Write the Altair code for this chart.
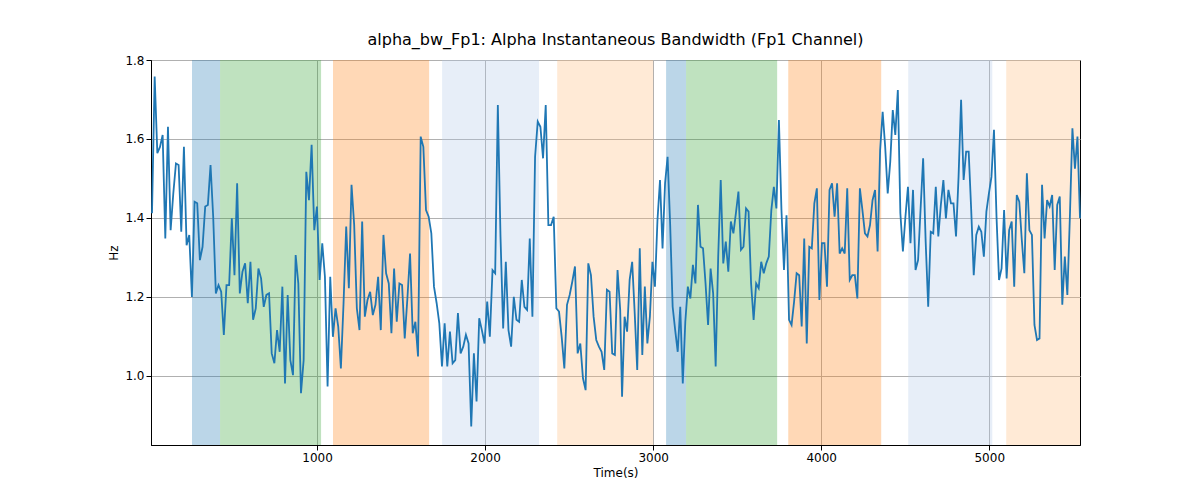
import altair as alt
import numpy as np
import pandas as pd

bw_first = [
    1.412, 1.758, 1.564, 1.580, 1.610, 1.348, 1.631, 1.369, 1.462, 1.538, 1.534, 1.365, 1.580, 1.331,
    1.357, 1.200, 1.441, 1.437, 1.293, 1.327, 1.429, 1.433, 1.534, 1.403, 1.209, 1.230, 1.213, 1.104,
    1.230, 1.230, 1.399, 1.255, 1.488, 1.209, 1.264, 1.285, 1.184, 1.289, 1.142, 1.171, 1.272, 1.247,
    1.175, 1.205, 1.209, 1.057, 1.032, 1.116, 1.061, 1.226, 0.981, 1.205, 1.040, 1.002, 1.306, 1.234,
    0.956, 1.040, 1.517, 1.445, 1.585, 1.369, 1.429, 1.243, 1.336, 1.251, 0.973, 1.251, 1.099, 1.171,
    1.125, 1.019, 1.184, 1.378, 1.222, 1.484, 1.382, 1.171, 1.116, 1.391, 1.150, 1.192, 1.213, 1.154,
    1.180, 1.251, 1.116, 1.357, 1.260, 1.234, 1.108, 1.272, 1.137, 1.234, 1.230, 1.095, 1.196, 1.310,
    1.108, 1.137, 1.049, 1.606, 1.580, 1.420, 1.403, 1.361, 1.226, 1.184, 1.133, 1.024, 1.133, 1.024,
    1.112, 1.032, 1.040, 1.159, 1.057, 1.074, 1.104, 1.082, 0.872, 1.057, 0.935, 1.146, 1.116, 1.082,
    1.188, 1.099, 1.268, 1.260, 1.686, 1.353, 1.120, 1.289, 1.116, 1.074, 1.200, 1.142, 1.137, 1.243,
    1.175, 1.167, 1.348, 1.150, 1.555, 1.644, 1.631, 1.551, 1.686, 1.382, 1.382, 1.403, 1.171, 1.163,
    1.099, 1.019, 1.180, 1.205, 1.239, 1.277, 1.057, 1.082, 0.994, 0.964, 1.285, 1.255, 1.150, 1.091,
    1.074, 1.061, 1.015, 1.218, 1.213, 1.057, 1.053, 1.268, 1.167,
]
bw_second = [
    0.947, 1.150, 1.112, 1.243, 1.289, 1.159, 1.015, 1.323, 1.053, 1.226, 1.082, 1.150, 1.289, 1.226,
    1.395, 1.496, 1.323, 1.488, 1.555, 1.386, 1.175, 1.116, 1.061, 1.175, 0.981, 1.137, 1.226, 1.196,
    1.281, 1.234, 1.433, 1.327, 1.323, 1.234, 1.129, 1.272, 1.209, 1.024, 1.302, 1.496, 1.285, 1.340,
    1.264, 1.391, 1.361, 1.412, 1.467, 1.319, 1.327, 1.424, 1.416, 1.234, 1.142, 1.234, 1.222, 1.289,
    1.260, 1.285, 1.302, 1.420, 1.479, 1.424, 1.648, 1.420, 1.268, 1.407, 1.142, 1.129, 1.188, 1.260,
    1.255, 1.125, 1.348, 1.082, 1.327, 1.323, 1.437, 1.475, 1.192, 1.336, 1.336, 1.226, 1.471, 1.488,
    1.403, 1.488, 1.310, 1.323, 1.310, 1.475, 1.243, 1.255, 1.255, 1.196, 1.475, 1.420, 1.361, 1.353,
    1.382, 1.445, 1.471, 1.315, 1.572, 1.669, 1.580, 1.462, 1.542, 1.673, 1.610, 1.724, 1.412, 1.315,
    1.403, 1.479, 1.336, 1.471, 1.268, 1.293, 1.424, 1.551, 1.340, 1.175, 1.365, 1.361, 1.479, 1.353,
    1.433, 1.496, 1.399, 1.471, 1.437, 1.437, 1.353, 1.504, 1.699, 1.496, 1.568, 1.568, 1.420, 1.255,
    1.357, 1.378, 1.365, 1.302, 1.416, 1.462, 1.504, 1.623, 1.403, 1.243, 1.272, 1.420, 1.247, 1.369,
    1.391, 1.226, 1.458, 1.441, 1.344, 1.260, 1.513, 1.369, 1.357, 1.129, 1.091, 1.095, 1.484, 1.348,
    1.445, 1.429, 1.458, 1.268, 1.433, 1.454, 1.180, 1.302, 1.205, 1.403, 1.627, 1.525, 1.606, 1.399,
]
first_span = (18, 2804)
second_span = (2815, 5540)
t_start, t_end = 12, 5540

band_start = [256, 423, 1095, 1744, 2429, 3077, 3196, 3804, 4518, 5101]
band_end = [423, 1024, 1667, 2321, 3000, 3196, 3738, 4357, 5018, 5540]
band_kind = ["a", "b", "c", "d", "e", "a", "b", "c", "d", "e"]
kind_colors = ["#1f77b4", "#2ca02c", "#ff7f0e", "#aec7e8", "#ffbb78"]

times = np.concatenate([np.linspace(*first_span, len(bw_first)),
                        np.linspace(*second_span, len(bw_second))])
line_df = pd.DataFrame({"t": times, "bw": bw_first + bw_second})
band_df = pd.DataFrame({"start": band_start, "end": band_end, "kind": band_kind})

x_scale = alt.Scale(domain=[t_start, t_end], nice=False, zero=False)
y_scale = alt.Scale(domain=[0.825, 1.8], nice=False, zero=False)

bands = alt.Chart(band_df).mark_rect(opacity=0.3).encode(
    x=alt.X("start:Q", scale=x_scale),
    x2="end:Q",
    color=alt.Color("kind:N", scale=alt.Scale(domain=["a", "b", "c", "d", "e"], range=kind_colors), legend=None),
)

line = alt.Chart(line_df).mark_line(color="#1f77b4", strokeWidth=1.8).encode(
    x=alt.X("t:Q", scale=x_scale, title="Time(s)",
            axis=alt.Axis(values=[1000, 2000, 3000, 4000, 5000], format="d", grid=True)),
    y=alt.Y("bw:Q", scale=y_scale, title="Hz",
            axis=alt.Axis(values=[1.0, 1.2, 1.4, 1.6, 1.8], format=".1f", grid=True)),
)

chart = (bands + line).properties(
    width=929, height=385,
    title=alt.Title("alpha_bw_Fp1: Alpha Instantaneous Bandwidth (Fp1 Channel)",
                    fontSize=16, fontWeight="normal", font="DejaVu Sans", offset=6),
).configure_axis(
    gridColor="#b0b0b0", domainColor="black", tickColor="black", labelColor="black",
    labelFont="DejaVu Sans", titleFont="DejaVu Sans", labelFontSize=12, titleFontSize=12,
    titleFontWeight="normal",
).configure_view(stroke="black").properties(padding={"left": 99, "top": 24, "right": 20, "bottom": 10})

chart.save("out.html", embed_options={"renderer": "svg", "actions": False})
